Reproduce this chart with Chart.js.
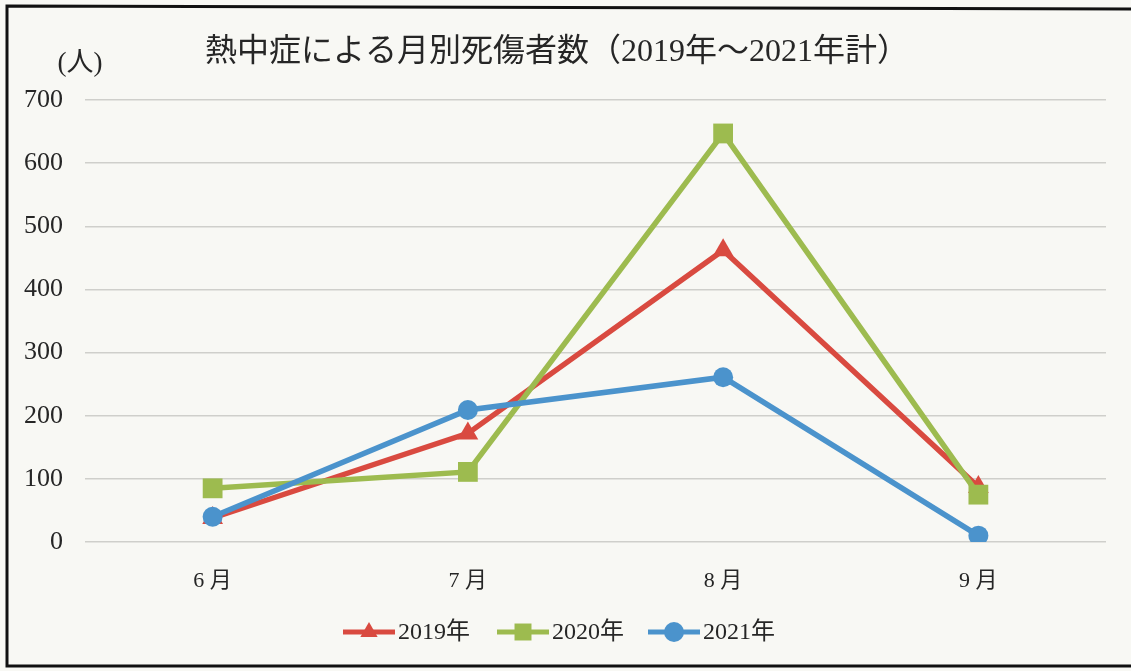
<!DOCTYPE html>
<html lang="ja">
<head>
<meta charset="utf-8">
<title>熱中症による月別死傷者数</title>
<script src="https://cdn.jsdelivr.net/npm/chart.js@4/dist/chart.umd.min.js"></script>
<style>
  html, body { margin: 0; padding: 0; background: #f8f8f4; }
  canvas { display: block; }
</style>
</head>
<body>
<canvas id="heatChart" width="1131" height="671"></canvas>
<script>
// data
const months = ["6 月", "7 月", "8 月", "9 月"];
const deaths2019 = [38, 172, 462, 87];
const deaths2020 = [85, 111, 647, 75];
const deaths2021 = [40, 209, 261, 10];
const seriesNames = ["2019年", "2020年", "2021年"];

const COLORS = {
  red: "#d94a40",
  green: "#9dbb4f",
  blue: "#4b93cc",
  text: "#262626",
  grid: "#cfcfcb",
};
const SERIF = '"Liberation Serif", "Noto Sans CJK JP", serif';

function drawMarker(ctx, style, x, y, r, color) {
  ctx.save();
  ctx.fillStyle = color;
  ctx.beginPath();
  if (style === "triangle") {
    ctx.moveTo(x, y - r);
    ctx.lineTo(x + r * 0.866, y + r * 0.5);
    ctx.lineTo(x - r * 0.866, y + r * 0.5);
    ctx.closePath();
  } else if (style === "rect") {
    const s = r * Math.SQRT1_2;
    ctx.rect(x - s, y - s, s * 2, s * 2);
  } else {
    ctx.arc(x, y, r, 0, Math.PI * 2);
  }
  ctx.fill();
  ctx.restore();
}

const decorPlugin = {
  id: "decor",
  beforeDraw(chart) {
    const ctx = chart.ctx;
    ctx.save();
    ctx.fillStyle = "#f8f8f4";
    ctx.fillRect(0, 0, chart.width, chart.height);
    ctx.restore();
  },
  afterDraw(chart) {
    const ctx = chart.ctx;
    ctx.save();
    // frame (open on the right, like the scan)
    ctx.strokeStyle = "#111";
    ctx.lineWidth = 3;
    ctx.beginPath();
    ctx.moveTo(1131, 9);
    ctx.lineTo(7, 6);
    ctx.lineTo(7, 666);
    ctx.lineTo(1131, 666);
    ctx.stroke();

    // title and unit
    ctx.fillStyle = COLORS.text;
    ctx.textBaseline = "middle";
    ctx.textAlign = "center";
    ctx.font = "32px " + SERIF;
    ctx.fillText("熱中症による月別死傷者数（2019年～2021年計）", 557, 53);
    ctx.font = "27px " + SERIF;
    ctx.fillText("(人)", 80, 64);

    // legend: line + marker + label
    const items = chart.data.datasets;
    const xs = [343, 497, 648];
    ctx.font = "24px " + SERIF;
    ctx.textAlign = "left";
    items.forEach((ds, i) => {
      const x0 = xs[i];
      const y = 632;
      ctx.strokeStyle = ds.borderColor;
      ctx.lineWidth = 5;
      ctx.beginPath();
      ctx.moveTo(x0, y);
      ctx.lineTo(x0 + 52, y);
      ctx.stroke();
      drawMarker(ctx, ds.pointStyle, x0 + 26, y, ds.pointStyle === "rect" ? 12 : 10, ds.borderColor);
      ctx.fillStyle = COLORS.text;
      ctx.fillText(ds.label, x0 + 55, y + 1);
    });
    ctx.restore();
  },
};

function makeSeries(label, data, color, pointStyle, radius, order) {
  return {
    label: label,
    data: data,
    borderColor: color,
    backgroundColor: color,
    borderWidth: 5.5,
    pointStyle: pointStyle,
    pointRadius: radius,
    pointHoverRadius: radius,
    pointBorderWidth: 0,
    tension: 0,
    order: order,
  };
}

const ctx = document.getElementById("heatChart").getContext("2d");
new Chart(ctx, {
  type: "line",
  data: {
    labels: months,
    datasets: [
      makeSeries(seriesNames[0], deaths2019, COLORS.red, "triangle", 12, 2),
      makeSeries(seriesNames[1], deaths2020, COLORS.green, "rect", 14, 1),
      makeSeries(seriesNames[2], deaths2021, COLORS.blue, "circle", 10, 0),
    ],
  },
  options: {
    responsive: false,
    animation: false,
    devicePixelRatio: 1,
    layout: { padding: { left: 0, right: 25, top: 100, bottom: 0 } },
    plugins: {
      legend: { display: false },
      title: { display: false },
      tooltip: { enabled: false },
    },
    scales: {
      x: {
        offset: true,
        grid: { display: false, drawTicks: false },
        border: { display: false },
        ticks: {
          color: COLORS.text,
          font: { family: SERIF, size: 22 },
          padding: 26,
          maxRotation: 0,
        },
        afterFit(scale) {
          scale.height = 129;
        },
      },
      y: {
        min: 0,
        max: 700,
        grid: { color: COLORS.grid, lineWidth: 1.5, drawTicks: false },
        border: { display: false },
        ticks: {
          stepSize: 100,
          color: COLORS.text,
          font: { family: SERIF, size: 26 },
          padding: 22,
        },
        afterFit(scale) {
          scale.width = 85;
        },
      },
    },
  },
  plugins: [decorPlugin],
});
</script>
</body>
</html>
